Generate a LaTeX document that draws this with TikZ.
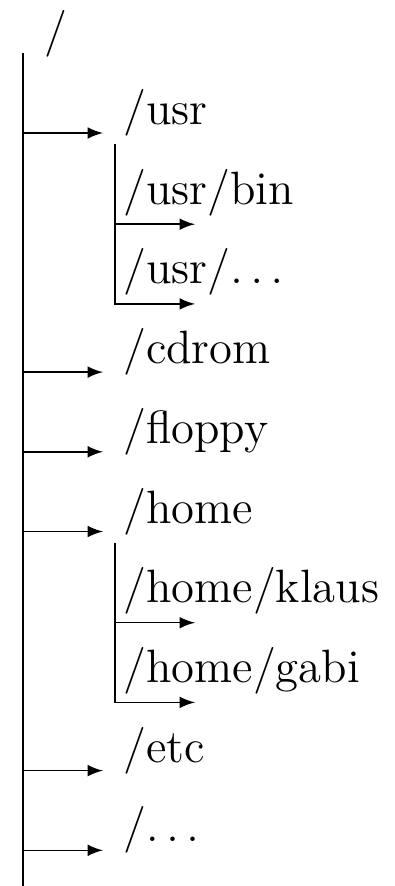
\documentclass[tikz,border=0pt]{standalone}
\begin{document}
\begin{tikzpicture}[x=0.2609pt,y=-0.2609pt,>=latex]
        \tikzstyle{every node}=[font=\fontsize{12.2}{14}\selectfont,anchor=base west,inner sep=0pt]
        \useasboundingbox (0,0) rectangle (394,886);

        % directories
        \node (root) at (43.5,45.5) {/};
        \node (usr) at (122.5,124.5) {/usr};
        \node (usrbin) at (122.5,204.2) {/usr/bin};
        \node (usrdots) at (122.5,283.9) {/usr/$\ldots$};
        \node (cdrom) at (122.5,363.6) {/cdrom};
        \node (floppy) at (122.5,443.3) {/floppy};
        \node (home) at (122.5,523.0) {/home};
        \node (klaus) at (122.5,602.7) {/home/klaus};
        \node (gabi) at (122.5,682.4) {/home/gabi};
        \node (etc) at (122.5,762.1) {/etc};
        \node (dots) at (122.5,841.8) {/$\ldots$};

        % main line
        \coordinate (bottom) at (23,886);
        \draw ([shift={(-20.5,7.5)}]root.base west) -- (bottom);
        \foreach\d in {usr,cdrom,floppy,home,etc,dots}{
            \draw[->] ([shift={(-99.5,8.5)}]\d.base west) -- ([shift={(-19.5,8.5)}]\d.base west);
        }

        % sub lines
        \draw[->] ([shift={(-7.5,19.5)}]usr.base west) |- ([shift={(72.5,20)}]usrdots.base west);
        \draw[->] ([shift={(-7.5,20)}]usrbin.base west) -- ([shift={(72.5,20)}]usrbin.base west);

        \draw[->] ([shift={(-7.5,19.5)}]home.base west) |- ([shift={(72.5,20)}]gabi.base west);
        \draw[->] ([shift={(-7.5,20)}]klaus.base west) -- ([shift={(72.5,20)}]klaus.base west);
\end{tikzpicture}
\end{document}
